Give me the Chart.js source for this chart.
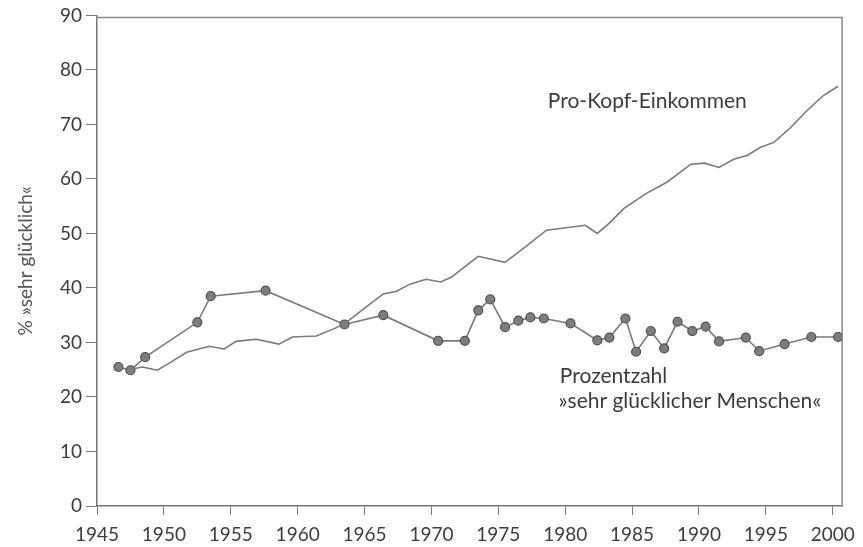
<!DOCTYPE html>
<html>
<head>
<meta charset="utf-8">
<script src="https://cdn.jsdelivr.net/npm/chart.js@4.4.1/dist/chart.umd.min.js"></script>
<style>
  html, body { margin: 0; padding: 0; background: #fff; }
  #wrap { width: 863px; height: 547px; position: relative; }
</style>
</head>
<body>
<div id="wrap"><canvas id="chart"></canvas></div>
<script>
/* ---------- DATA ---------- */
const happyYears = [1946.6, 1947.5, 1948.6, 1952.5, 1953.5, 1957.6, 1963.5, 1966.4, 1970.5, 1972.5,
    1973.5, 1974.4, 1975.5, 1976.5, 1977.4, 1978.4, 1980.4, 1982.4, 1983.3, 1984.5,
    1985.3, 1986.4, 1987.4, 1988.4, 1989.5, 1990.5, 1991.5, 1993.5, 1994.5, 1996.4,
    1998.4, 2000.4];
const happyValues = [25.5, 24.9, 27.3, 33.7, 38.5, 39.5, 33.3, 35.0, 30.3, 30.3,
    35.9, 37.9, 32.8, 34.0, 34.6, 34.4, 33.5, 30.4, 30.9, 34.4,
    28.3, 32.1, 28.9, 33.8, 32.1, 32.9, 30.2, 30.9, 28.4, 29.7,
    31.0, 31.0];

const incomeYears = [1947.5, 1948.4, 1949.5, 1950.4, 1951.7, 1953.4, 1954.5, 1955.4, 1956.9, 1958.6,
    1959.6, 1961.4, 1962.6, 1963.5, 1965.1, 1966.4, 1967.4, 1968.4, 1969.6, 1970.7,
    1971.5, 1973.5, 1975.5, 1977.0, 1978.6, 1980.2, 1981.5, 1982.4, 1983.3, 1984.4,
    1986.1, 1987.6, 1989.4, 1990.4, 1991.5, 1992.6, 1993.6, 1994.6, 1995.6, 1996.8,
    1998.1, 1999.3, 2000.4];
const incomeValues = [25.1, 25.5, 24.9, 26.2, 28.2, 29.3, 28.8, 30.2, 30.6, 29.7,
    31.0, 31.2, 32.4, 33.4, 36.5, 38.9, 39.4, 40.7, 41.6, 41.1,
    42.0, 45.8, 44.7, 47.5, 50.6, 51.1, 51.5, 50.0, 51.9, 54.6,
    57.4, 59.4, 62.7, 62.9, 62.1, 63.6, 64.3, 65.8, 66.7, 69.3,
    72.6, 75.3, 77.0];

const xTicks = [1945, 1950, 1955, 1960, 1965, 1970, 1975, 1980, 1985, 1990, 1995, 2000];
const yTitle = "% \u00bbsehr gl\u00fccklich\u00ab";

const labels = [
    { text: "Pro-Kopf-Einkommen", x: 1978.7, y: 73.0 },
    { text: "Prozentzahl", x: 1979.6, y: 22.6 },
    { text: "\u00bbsehr gl\u00fccklicher Menschen\u00ab", x: 1979.5, y: 17.9 }
];

const FONT = "Lato, 'Open Sans', sans-serif";
const INK = "#3c3c3c";
const LINE = "#7a7a7a";

/* ---------- PLUGINS ---------- */
const frame = {
    id: "frame",
    beforeDatasetsDraw(c) {
        const a = c.chartArea, ctx = c.ctx;
        ctx.save();
        ctx.strokeStyle = "#8a8a8a";
        ctx.lineWidth = 1.5;
        ctx.beginPath();
        ctx.moveTo(a.left, a.top + 2);
        ctx.lineTo(a.right, a.top + 2);
        ctx.lineTo(a.right, a.bottom);
        ctx.stroke();
        ctx.restore();
    }
};

const notes = {
    id: "notes",
    afterDraw(c) {
        const ctx = c.ctx, xs = c.scales.x, ys = c.scales.y;
        ctx.save();
        ctx.fillStyle = INK;
        ctx.font = "21px " + FONT;
        ctx.textBaseline = "alphabetic";
        labels.forEach(l => {
            ctx.fillText(l.text, xs.getPixelForValue(l.x), ys.getPixelForValue(l.y));
        });
        ctx.restore();
    }
};

/* ---------- CHART ---------- */
new Chart(document.getElementById("chart"), {
    type: "scatter",
    data: {
        datasets: [
            {
                label: "Pro-Kopf-Einkommen",
                data: incomeYears.map((x, i) => ({ x, y: incomeValues[i] })),
                showLine: true,
                borderColor: LINE,
                borderWidth: 1.6,
                pointRadius: 0,
                tension: 0
            },
            {
                label: "sehr gl\u00fccklich",
                data: happyYears.map((x, i) => ({ x, y: happyValues[i] })),
                showLine: true,
                borderColor: LINE,
                borderWidth: 1.6,
                pointRadius: 4.5,
                pointBackgroundColor: "#7d7d7d",
                pointBorderColor: "#505050",
                pointBorderWidth: 1.2,
                tension: 0
            }
        ]
    },
    options: {
        responsive: true,
        maintainAspectRatio: false,
        animation: false,
        layout: { padding: { left: 0, top: 15, right: 17, bottom: 0 } },
        plugins: {
            legend: { display: false },
            tooltip: { enabled: false }
        },
        scales: {
            x: {
                type: "linear",
                min: 1945,
                max: 2000.7,
                afterBuildTicks: s => { s.ticks = xTicks.map(v => ({ value: v })); },
                afterFit: s => { s.height = 41; },
                grid: { drawOnChartArea: false, drawTicks: true, tickLength: 9, color: "#777" },
                border: { display: true, color: "#777", width: 1.5 },
                ticks: {
                    color: INK,
                    font: { family: FONT, size: 19 },
                    padding: 8,
                    maxRotation: 0,
                    callback: v => String(v)
                }
            },
            y: {
                min: 0,
                max: 90,
                afterFit: s => { s.width = 97; },
                grid: { drawOnChartArea: false, drawTicks: true, tickLength: 11, color: "#777" },
                border: { display: true, color: "#777", width: 1.5 },
                ticks: {
                    stepSize: 10,
                    color: INK,
                    font: { family: FONT, size: 19 },
                    padding: 4
                },
                title: {
                    display: true,
                    text: yTitle,
                    color: "#555",
                    font: { family: FONT, size: 19 },
                    padding: { top: 14, bottom: 0 }
                }
            }
        }
    },
    plugins: [frame, notes]
});
</script>
</body>
</html>
